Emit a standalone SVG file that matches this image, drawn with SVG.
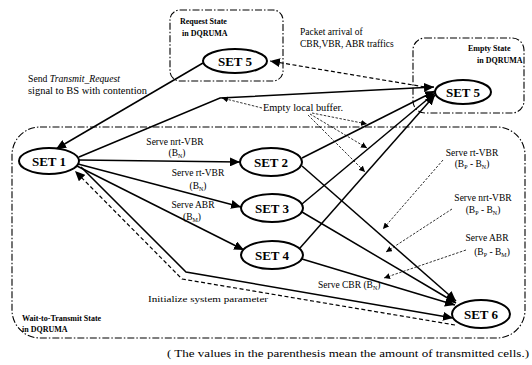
<svg xmlns="http://www.w3.org/2000/svg" width="532" height="365" viewBox="0 0 532 365">
<style>
text{font-family:"Liberation Serif","Times New Roman",serif;fill:#000}
.t{font-size:8px;font-weight:bold}
.l{font-size:9.5px}
.s{font-size:13px;font-weight:bold}
.sub{font-size:6px}
.box{fill:none;stroke:#000;stroke-width:1.1;stroke-dasharray:7,2,1.5,2}
.st{fill:#fff;stroke:#000;stroke-width:2}
.c{fill:none;stroke:#000;stroke-width:1.5}
.d{fill:none;stroke:#000;stroke-width:1.2;stroke-dasharray:4,2.5}
.p{fill:none;stroke:#000;stroke-width:0.8;stroke-dasharray:2.5,1.5}
</style>
<defs>
<marker id="a" markerUnits="userSpaceOnUse" markerWidth="11" markerHeight="9" refX="10" refY="4.5" orient="auto"><path d="M0,0 L10,4.5 L0,9 z" fill="#000"/></marker>
<marker id="ap" markerUnits="userSpaceOnUse" markerWidth="7" markerHeight="6" refX="6" refY="3" orient="auto"><path d="M0,0 L6,3 L0,6 z" fill="#000"/></marker>
</defs>
<rect width="532" height="365" fill="#fff"/>
<g id="regions">
<rect class="box" x="170" y="10" width="113" height="71" rx="10"/>
<rect class="box" x="413" y="38" width="111" height="75" rx="12"/>
<rect class="box" x="12" y="127" width="513" height="211" rx="28"/>
<text class="t" x="180" y="24">Request State</text>
<text class="t" x="182" y="36">in DQRUMA</text>
<text class="t" x="468" y="51">Empty State</text>
<text class="t" x="477" y="63">in DQRUMA</text>
<text class="t" x="22" y="321">Wait-to-Transmit State</text>
<text class="t" x="22" y="332">in DQRUMA</text>
</g>
<g id="connectors">
<path class="c" d="M203,63 L56,149" marker-end="url(#a)"/>
<path class="d" d="M431,88 L270,61" marker-end="url(#a)"/>
<path class="c" d="M79,157 L220,98 L434,87" marker-end="url(#a)"/>
<path class="c" d="M79,160 L240,162" marker-end="url(#a)"/>
<path class="c" d="M78,164 L241,207" marker-end="url(#a)"/>
<path class="c" d="M77,166 L244,250" marker-end="url(#a)"/>
<path class="c" d="M302,158 L435,91" marker-end="url(#a)"/>
<path class="c" d="M302,204 L435,93" marker-end="url(#a)"/>
<path class="c" d="M300,248 L435,95" marker-end="url(#a)"/>
<path class="c" d="M302,166 L456,301" marker-end="url(#a)"/>
<path class="c" d="M302,212 L456,303" marker-end="url(#a)"/>
<path class="c" d="M302,259 L455,305" marker-end="url(#a)"/>
<path class="c" d="M81,167 L186,272 L453,318" marker-end="url(#a)"/>
<path class="d" d="M455,325 L182,279 L75,171" marker-end="url(#a)"/>
<path class="p" d="M262,108 L222,98" marker-end="url(#ap)"/>
<path class="p" d="M312,113 L367,124" marker-end="url(#ap)"/>
<path class="p" d="M310,114 L367,148" marker-end="url(#ap)"/>
<path class="p" d="M308,115 L365,172" marker-end="url(#ap)"/>
<path class="p" d="M443,160 L383,229" marker-end="url(#ap)"/>
<path class="p" d="M452,209 L386,252" marker-end="url(#ap)"/>
<path class="p" d="M466,250 L384,278" marker-end="url(#ap)"/>
</g>
<g id="labels">
<text class="l" x="28" y="82" textLength="92" lengthAdjust="spacingAndGlyphs">Send <tspan font-style="italic">Transmit_Request</tspan></text>
<text class="l" x="28" y="94" textLength="119" lengthAdjust="spacingAndGlyphs">signal to BS with contention</text>
<text class="l" x="300" y="35">Packet arrival of</text>
<text class="l" x="300" y="47">CBR,VBR, ABR traffics</text>
<text class="l" x="263" y="111" textLength="80" lengthAdjust="spacingAndGlyphs">Empty local buffer.</text>
<text class="l" x="175" y="145" text-anchor="middle">Serve nrt-VBR</text>
<text class="l" x="177" y="156" text-anchor="middle">(B<tspan class="sub" dy="2">N</tspan><tspan dy="-2">)</tspan></text>
<text class="l" x="198" y="176" text-anchor="middle">Serve rt-VBR</text>
<text class="l" x="198" y="189" text-anchor="middle">(B<tspan class="sub" dy="2">N</tspan><tspan dy="-2">)</tspan></text>
<text class="l" x="193" y="208" text-anchor="middle">Serve ABR</text>
<text class="l" x="192" y="220" text-anchor="middle">(B<tspan class="sub" dy="2">M</tspan><tspan dy="-2">)</tspan></text>
<text class="l" x="472" y="156" text-anchor="middle">Serve rt-VBR</text>
<text class="l" x="472" y="167" text-anchor="middle">(B<tspan class="sub" dy="2">P</tspan><tspan dy="-2"> - B</tspan><tspan class="sub" dy="2">N</tspan><tspan dy="-2">)</tspan></text>
<text class="l" x="483" y="201" text-anchor="middle">Serve nrt-VBR</text>
<text class="l" x="483" y="213" text-anchor="middle">(B<tspan class="sub" dy="2">P</tspan><tspan dy="-2"> - B</tspan><tspan class="sub" dy="2">N</tspan><tspan dy="-2">)</tspan></text>
<text class="l" x="487" y="241" text-anchor="middle">Serve ABR</text>
<text class="l" x="492" y="255" text-anchor="middle">(B<tspan class="sub" dy="2">P</tspan><tspan dy="-2"> - B</tspan><tspan class="sub" dy="2">M</tspan><tspan dy="-2">)</tspan></text>
<text class="l" x="318" y="288">Serve CBR (B<tspan class="sub" dy="2">N</tspan><tspan dy="-2">)</tspan></text>
<text x="148" y="302" font-size="8px" textLength="120" lengthAdjust="spacingAndGlyphs">Initialize system parameter</text>
<text x="167" y="357" font-size="11px" textLength="362" lengthAdjust="spacingAndGlyphs">( The values in the parenthesis mean the amount of transmitted cells.)</text>
</g>
<g id="set5req"><ellipse class="st" cx="235" cy="61" rx="32" ry="12"/><text class="s" x="235" y="65.5" text-anchor="middle">SET 5</text></g>
<g id="set5empty"><ellipse class="st" cx="463" cy="92" rx="28" ry="12"/><text class="s" x="463" y="96.5" text-anchor="middle">SET 5</text></g>
<g id="set1"><ellipse class="st" cx="49" cy="161" rx="30" ry="13"/><text class="s" x="49" y="165.5" text-anchor="middle">SET 1</text></g>
<g id="set2"><ellipse class="st" cx="271" cy="162" rx="31" ry="14"/><text class="s" x="271" y="166.5" text-anchor="middle">SET 2</text></g>
<g id="set3"><ellipse class="st" cx="272" cy="208" rx="31" ry="14"/><text class="s" x="272" y="212.5" text-anchor="middle">SET 3</text></g>
<g id="set4"><ellipse class="st" cx="272" cy="255" rx="31" ry="14"/><text class="s" x="272" y="259.5" text-anchor="middle">SET 4</text></g>
<g id="set6"><ellipse class="st" cx="481" cy="314" rx="29" ry="14"/><text class="s" x="481" y="318.5" text-anchor="middle">SET 6</text></g>
</svg>
